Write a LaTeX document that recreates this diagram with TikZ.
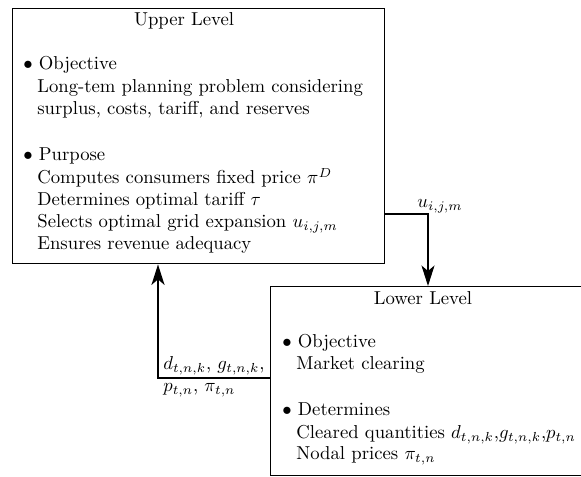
\documentclass[tikz,border=0pt]{standalone}
\usetikzlibrary{arrows.meta}
\begin{document}
\begin{tikzpicture}[x=0.535pt,y=-0.535pt,
  box/.style={draw,line width=0.75pt,anchor=north west,inner sep=0pt},
  txt/.style={anchor=base west,inner sep=0pt,font=\normalsize},
  ttl/.style={anchor=base,inner sep=0pt,font=\normalsize},
  conn/.style={line width=0.75pt,-{Stealth[length=11pt,width=7pt,inset=3pt]}}]
\useasboundingbox (0,0) rectangle (581,477);
\node[box,minimum width=372*0.535pt,minimum height=255*0.535pt] (up) at (12,8) {};
\node[box,minimum width=315*0.535pt,minimum height=189*0.535pt] (lo) at (270,286) {};
% upper text
\node[ttl] (ut) at (184,26) {Upper Level};
\node[txt] (u1) at (23,70) {$\bullet$ Objective};
\node[txt] (u2) at (37,93) {Long-tem planning problem considering};
\node[txt] (u3) at (37,115) {surplus, costs, tariff, and reserves};
\node[txt] (u4) at (23,161) {$\bullet$ Purpose};
\node[txt] (u5) at (37,184) {Computes consumers fixed price $\pi^D$};
\node[txt] (u6) at (37,206) {Determines optimal tariff $\tau$};
\node[txt] (u7) at (37,228) {Selects optimal grid expansion $u_{i,j,m}$};
\node[txt] (u8) at (37,250) {Ensures revenue adequacy};
% lower text
\node[ttl] (lt) at (423,305) {Lower Level};
\node[txt] (l1) at (282,348) {$\bullet$ Objective};
\node[txt] (l2) at (296,370) {Market clearing};
\node[txt] (l3) at (282,416) {$\bullet$ Determines};
\node[txt] (l4) at (296,439) {Cleared quantities $d_{t,n,k}$,$g_{t,n,k}$,$p_{t,n}$};
\node[txt] (l5) at (296,460) {Nodal prices $\pi_{t,n}$};
% connectors
\coordinate (c1) at (428,214);
\coordinate (c2) at (158,378);
\draw[conn] (c1 -| up.east) -- (c1) -- (c1 |- lo.north);
\draw[conn] (c2 -| lo.west) -- (c2) -- (c2 |- up.south);
\node[txt] (ul) at (417,208) {$u_{i,j,m}$};
\node[txt] (dl) at (163,370) {$d_{t,n,k}$, $g_{t,n,k}$,};
\node[txt] (pl) at (163,392) {$p_{t,n}$, $\pi_{t,n}$};
\end{tikzpicture}
\end{document}
